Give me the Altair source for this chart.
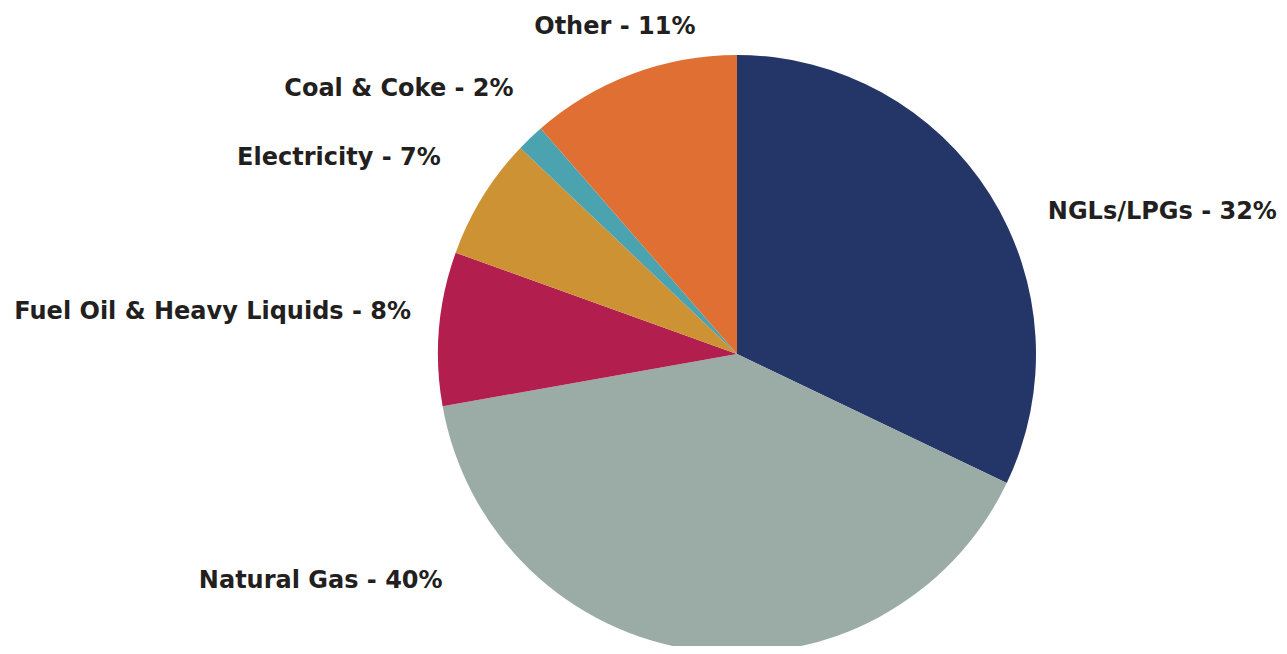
import altair as alt
import pandas as pd

labels = ["NGLs/LPGs", "Natural Gas", "Fuel Oil & Heavy Liquids", "Electricity", "Coal & Coke", "Other"]
values = [32.1, 40.1, 8.3, 6.6, 1.5, 11.4]
pct_labels = [32, 40, 8, 7, 2, 11]
colors = ["#243567", "#9BACA6", "#B21E4D", "#CD9234", "#4BA3B0", "#E06F33"]

df = pd.DataFrame({
    "label": labels,
    "value": values,
    "pct": pct_labels,
    "order": list(range(len(labels))),
})
df["text"] = [f"{l} - {p}%" for l, p in zip(labels, pct_labels)]

CX, CY, R = 729, 346, 299
theta_scale = alt.Scale(domain=[0, 100])

base = alt.Chart(df)

arcs = base.mark_arc(radius=R, stroke=None).encode(
    theta=alt.Theta("value:Q", stack=True, scale=theta_scale),
    color=alt.Color("label:N", scale=alt.Scale(domain=labels, range=colors), legend=None),
    order=alt.Order("order:Q"),
    x=alt.value(CX),
    y=alt.value(CY),
)

# label style: (align, dx, dy)
label_style = {
    "NGLs/LPGs": ("left", 57, 18),
    "Natural Gas": ("right", -254, -70),
    "Fuel Oil & Heavy Liquids": ("right", -27, -17),
    "Electricity": ("right", -41, -38),
    "Coal & Coke": ("right", -16, -48),
    "Other": ("center", -17, -46),
}

mids = base.transform_window(
    cum="sum(value)", sort=[alt.SortField("order")], frame=[None, 0]
).transform_calculate(mid="datum.cum - datum.value / 2")

layers = [arcs]
for lab in labels:
    align, dx, dy = label_style[lab]
    t = mids.transform_filter(alt.datum.label == lab).mark_text(
        radius=300, align=align, baseline="middle", dx=dx, dy=dy,
        font="DejaVu Sans", fontWeight="bold", fontSize=24, color="#231F20",
    ).encode(
        theta=alt.Theta("mid:Q", stack=None, scale=theta_scale),
        text="text:N",
        x=alt.value(CX),
        y=alt.value(CY),
    )
    layers.append(t)

chart = alt.layer(*layers).properties(
    width=1271, height=638, padding=0, autosize=alt.AutoSizeParams(type="none")
).configure_view(stroke=None)

chart.save("out.html", embed_options={"renderer": "svg", "actions": False})
